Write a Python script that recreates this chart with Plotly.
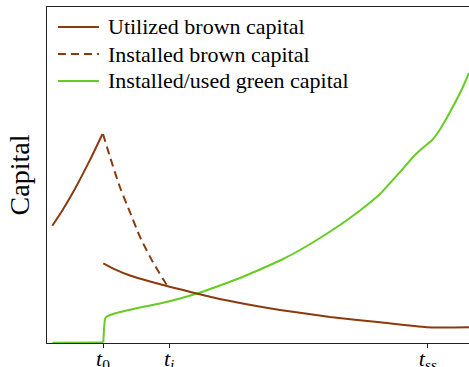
import plotly.graph_objects as go

# Time markers
T0, TI, TSS = 1.0, 2.18, 6.80
tick_vals = [T0, TI, TSS]
tick_text = ["<i>t</i><sub>0</sub>", "<i>t</i><sub><i>i</i></sub>", "<i>t</i><sub><i>ss</i></sub>"]

# Legend labels
legend_labels = ["Utilized brown capital", "Installed brown capital", "Installed/used green capital"]

# Utilized brown capital before t0
ub_pre_t = [0.095, 0.268, 0.47, 0.768, 0.991]
ub_pre_k = [3.49, 3.93, 4.50, 5.45, 6.22]

# Utilized brown capital after t0
ub_post_t = [1.005, 1.214, 1.482, 1.839, 2.375, 2.970, 3.566, 4.161, 5.054, 5.946, 6.780, 7.536]
ub_post_k = [2.372, 2.193, 2.009, 1.830, 1.598, 1.354, 1.152, 0.982, 0.777, 0.616, 0.470, 0.470]

# Installed brown capital (dashed) between t0 and ti
ib_t = [1.0, 1.125, 1.30, 1.48, 1.66, 1.89, 2.14, 2.18]
ib_k = [6.22, 5.54, 4.65, 3.90, 3.16, 2.41, 1.73, 1.65]

# Installed/used green capital
g_flat_t = [0.095, 1.0, 1.005]
g_flat_k = [0.01, 0.01, 0.015]
g_t = [1.005, 1.036, 1.071, 1.179, 1.423, 1.661, 2.018, 2.375, 2.732, 3.089, 3.446, 3.804,
       4.161, 4.518, 4.875, 5.232, 5.589, 5.946, 6.304, 6.571, 6.750, 6.870, 6.964, 7.077,
       7.255, 7.411, 7.536]
g_k = [0.015, 0.714, 0.789, 0.863, 0.967, 1.057, 1.176, 1.324, 1.503, 1.711, 1.935, 2.188,
       2.455, 2.768, 3.125, 3.512, 3.943, 4.435, 5.090, 5.595, 5.863, 6.027, 6.220, 6.518,
       7.054, 7.560, 8.036]

BROWN = "#8B3A0E"
GREEN = "#66CC22"
FONT = "Liberation Serif"
DASH = "8px,5px"

fig = go.Figure()
fig.add_trace(go.Scatter(x=ub_pre_t, y=ub_pre_k, mode="lines",
                         line=dict(color=BROWN, width=2, shape="spline", smoothing=0.6), showlegend=False))
fig.add_trace(go.Scatter(x=ib_t, y=ib_k, mode="lines",
                         line=dict(color=BROWN, width=2, dash=DASH, shape="spline", smoothing=0.6), showlegend=False))
fig.add_trace(go.Scatter(x=g_flat_t, y=g_flat_k, mode="lines", line=dict(color=GREEN, width=2), showlegend=False))
fig.add_trace(go.Scatter(x=g_t, y=g_k, mode="lines",
                         line=dict(color=GREEN, width=2, shape="spline", smoothing=0.4), showlegend=False))
fig.add_trace(go.Scatter(x=ub_post_t, y=ub_post_k, mode="lines",
                         line=dict(color=BROWN, width=2, shape="spline", smoothing=0.6), showlegend=False))

# Manual legend (paper coordinates)
leg_colors = [BROWN, BROWN, GREEN]
leg_dash = ["solid", DASH, "solid"]
leg_y = [0.9405, 0.860, 0.7798]
for lab, col, dsh, yy in zip(legend_labels, leg_colors, leg_dash, leg_y):
    fig.add_shape(type="line", xref="paper", yref="paper", x0=0.026, x1=0.123, y0=yy, y1=yy,
                  line=dict(color=col, width=2, dash=dsh))
    fig.add_annotation(xref="paper", yref="paper", x=0.140, y=yy, text=lab, showarrow=False,
                       xanchor="left", yanchor="middle", font=dict(family=FONT, size=22, color="black"))

fig.update_layout(
    width=469, height=367,
    margin=dict(l=47, r=0, t=7, b=24, autoexpand=False),
    paper_bgcolor="white", plot_bgcolor="white",
    font=dict(family=FONT, size=20, color="black"),
    showlegend=False,
    xaxis=dict(range=[0, 7.536], showgrid=False, zeroline=False, showline=True, linecolor="#222", linewidth=1.3,
               mirror=True, ticks="outside", ticklen=4, tickcolor="#222", tickvals=tick_vals, ticktext=tick_text,
               tickfont=dict(family=FONT, size=22), automargin=False, ticklabelstandoff=-9),
    yaxis=dict(range=[0, 10], showgrid=False, zeroline=False, showline=True, linecolor="#222", linewidth=1.3,
               showticklabels=False, ticks="", automargin=False,
               title=dict(text="Capital", font=dict(family=FONT, size=28), standoff=8)),
)

fig.write_html("out.html", config={"displayModeBar": False},
               post_script="document.body.style.margin='0px';")
